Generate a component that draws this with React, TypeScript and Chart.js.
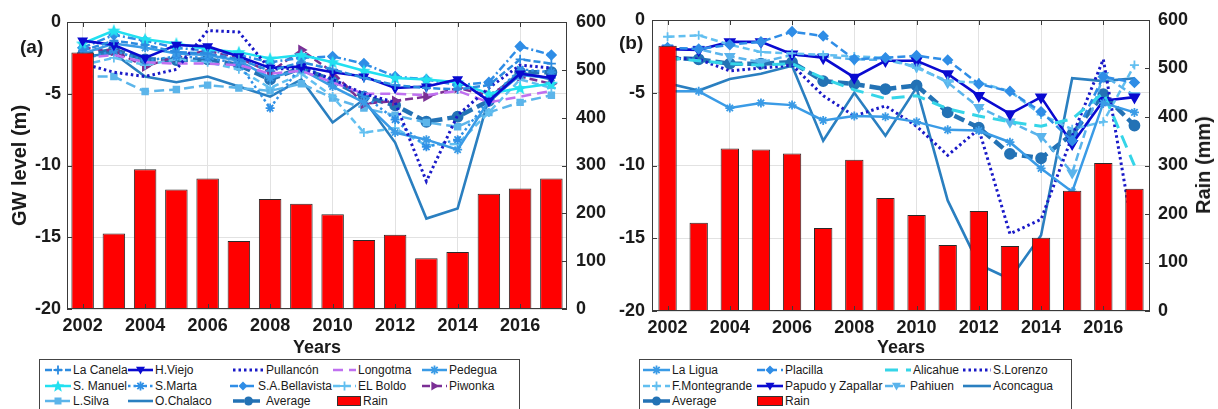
import React, { useEffect, useRef } from 'react';
import { Chart, registerables } from 'chart.js';
Chart.register(...registerables);

// ---------- data ----------
const years = ['2002','2003','2004','2005','2006','2007','2008','2009','2010','2011','2012','2013','2014','2015','2016','2017'];

const rainA = [536,158,292,250,273,142,230,220,198,144,155,106,119,241,252,273];
const rainB = [547,182,335,333,325,171,312,233,198,136,206,134,151,248,305,252];

// panel (a) groundwater levels (m)
const laCanela = [-2.0,-1.3,-1.6,-2.1,-2.2,-2.6,-3.4,-2.8,-3.3,-3.9,-4.4,-4.6,-4.7,-4.4,-2.6,-2.9];
const hViejo = [-1.3,-1.6,-2.5,-1.6,-1.7,-2.4,-3.2,-3.1,-3.5,-3.8,-4.6,-4.5,-4.0,-5.5,-3.6,-3.9];
const pullancon = [-2.9,-3.5,-3.8,-3.3,-0.6,-0.7,-3.3,-3.2,-4.0,-5.0,-5.6,-11.1,-6.5,-4.6,-3.0,-3.2];
const longotma = [-2.5,-2.3,-2.8,-2.9,-2.9,-3.0,-3.6,-3.4,-4.2,-5.0,-5.0,-5.1,-4.8,-5.6,-5.2,-4.8];
const pedegua = [-2.2,-1.5,-1.8,-2.2,-2.3,-2.7,-3.9,-3.3,-4.5,-5.6,-7.7,-8.2,-8.9,-5.5,-3.7,-3.9];
const sManuel = [-1.5,-0.6,-1.2,-1.5,-1.9,-2.1,-2.55,-2.3,-2.8,-3.4,-3.9,-4.0,-4.2,-5.0,-4.6,-4.3];
const sMarta = [-2.6,-2.0,-2.7,-2.4,-2.5,-2.9,-6.0,-3.0,-4.1,-5.1,-6.8,-8.7,-8.2,-5.4,-3.3,-3.5];
const saBellavista = [-1.8,-0.9,-1.3,-1.8,-2.0,-2.3,-2.8,-2.5,-2.4,-2.9,-3.8,-4.0,-4.4,-4.2,-1.7,-2.3];
const elBoldo = [-3.0,-2.5,-3.0,-2.6,-2.8,-3.3,-4.6,-3.6,-5.2,-7.7,-7.4,-8.6,-8.5,-6.3,-4.0,-4.6];
const piwonka = [-1.8,-2.0,-3.1,-2.4,-2.0,-2.5,-3.5,-1.95,-3.5,-5.7,-5.5,-5.2,-4.6,-5.1,-3.8,-4.3];
const lSilva = [-3.8,-3.8,-4.85,-4.7,-4.4,-4.6,-4.8,-4.3,-5.3,-6.0,-6.5,-7.0,-7.3,-6.3,-5.6,-5.1];
const oChalaco = [-2.4,-2.2,-3.8,-4.2,-3.8,-4.5,-5.2,-4.0,-7.0,-5.4,-8.4,-13.7,-13.0,-5.3,-3.5,-4.0];
const averageA = [-2.3,-1.95,-2.6,-2.65,-2.6,-3.0,-4.0,-3.2,-4.1,-5.2,-5.8,-6.95,-6.6,-5.5,-3.5,-3.5];

// panel (b) groundwater levels (m)
const laLigua = [-4.9,-4.9,-6.05,-5.7,-5.85,-6.9,-6.6,-6.65,-7.0,-7.55,-7.6,-8.4,-10.2,-11.8,-5.7,-6.35];
const placilla = [-1.9,-2.0,-1.7,-1.5,-0.8,-1.1,-2.7,-2.6,-2.45,-2.75,-4.4,-4.9,-6.3,-8.3,-3.9,-4.3];
const alicahue = [-2.6,-2.8,-3.0,-3.1,-3.0,-4.0,-4.8,-5.4,-5.2,-6.1,-6.6,-7.0,-7.3,-6.8,-5.0,-10.0];
const sLorenzo = [-2.6,-2.7,-3.5,-3.3,-3.1,-5.2,-6.6,-5.9,-7.3,-9.3,-7.5,-14.7,-13.7,-8.0,-2.7,-15.2];
const fMontegrande = [-1.15,-1.05,-1.7,-2.2,-2.3,-2.4,-2.5,-2.6,-3.3,-4.2,-4.3,-4.9,-6.5,-7.5,-7.0,-3.1];
const papudo = [-2.0,-2.05,-1.5,-1.5,-2.35,-2.6,-3.95,-2.8,-2.8,-3.7,-5.2,-6.45,-5.3,-8.5,-5.55,-5.3];
const pahiuen = [-1.9,-2.0,-2.5,-2.9,-2.4,-2.5,-2.7,-2.75,-3.2,-4.3,-6.0,-7.0,-8.0,-10.5,-3.8,-5.2];
const aconcagua = [-4.35,-4.85,-4.05,-3.7,-3.15,-8.3,-5.0,-7.95,-4.65,-12.4,-16.8,-17.8,-14.8,-4.0,-4.2,-4.0];
const averageB = [-2.6,-2.7,-3.0,-3.0,-2.9,-4.2,-4.4,-4.75,-4.5,-6.35,-7.4,-9.2,-9.5,-7.85,-5.1,-7.25];

// ---------- styles ----------
const FONT = '"Liberation Sans", Arial, Helvetica, sans-serif';
const TXT = '#1a1a1a';
const GRID = '#e2e2e2';

type Sty = { color: string; dash: number[]; width: number; marker: string; size: number };
const st = (color: string, dash: number[], width: number, marker: string, size = 4.5): Sty => ({ color, dash, width, marker, size });

const S = {
  laCanela: st('#2c8be0', [7, 3], 2.5, 'cross'),
  hViejo: st('#0a0ad0', [], 2.6, 'triDown'),
  pullancon: st('#1a1ac8', [2.5, 3], 3, 'none'),
  longotma: st('#c070f0', [10, 6], 2.5, 'none'),
  pedegua: st('#3a9be6', [], 2.5, 'asterisk'),
  sManuel: st('#22e0f0', [], 2.5, 'star5', 6),
  sMarta: st('#2f90e6', [2.5, 3], 2.5, 'asterisk'),
  saBellavista: st('#2f8de6', [8, 3, 2, 3], 2.5, 'diamond'),
  elBoldo: st('#62bff0', [7, 4], 2.5, 'cross'),
  piwonka: st('#7b2f95', [8, 4], 2.5, 'triRight'),
  lSilva: st('#5cb5ea', [10, 5], 2.5, 'square', 4),
  oChalaco: st('#2a7fc0', [], 2.6, 'none'),
  average: st('#2372b5', [11, 5], 4.5, 'circle', 5),
  laLigua: st('#3a9be6', [], 2.5, 'asterisk'),
  placilla: st('#2f8de6', [8, 4], 2.5, 'diamond'),
  alicahue: st('#35d5e8', [13, 8], 3, 'none'),
  sLorenzo: st('#1a1ac8', [2.5, 3], 3, 'none'),
  fMontegrande: st('#62bff0', [7, 4], 2.5, 'cross'),
  papudo: st('#0a0ad0', [], 2.6, 'triDown', 5.5),
  pahiuen: st('#5ab4ec', [8, 4], 2.5, 'triDown', 5),
  aconcagua: st('#2a7fc0', [], 2.6, 'none'),
};

function starPoints(cx: number, cy: number, R: number, r: number) {
  const pts: string[] = [];
  for (let i = 0; i < 10; i++) {
    const a = -Math.PI / 2 + (i * Math.PI) / 5;
    const rad = i % 2 === 0 ? R : r;
    pts.push(`${(cx + rad * Math.cos(a)).toFixed(2)},${(cy + rad * Math.sin(a)).toFixed(2)}`);
  }
  return pts;
}

function makeStarCanvas(color: string, size: number) {
  const c = document.createElement('canvas');
  c.width = size; c.height = size;
  const g = c.getContext('2d')!;
  const pts = starPoints(size / 2, size / 2 + 0.5, size / 2, size / 4.6).map(p => p.split(',').map(Number));
  g.beginPath();
  pts.forEach((p, i) => (i === 0 ? g.moveTo(p[0], p[1]) : g.lineTo(p[0], p[1])));
  g.closePath();
  g.fillStyle = color; g.fill();
  return c;
}

const markerMap: Record<string, [string, number]> = {
  cross: ['cross', 0],
  asterisk: ['star', 0],
  triDown: ['triangle', 180],
  triRight: ['triangle', 90],
  diamond: ['rectRot', 0],
  square: ['rect', 0],
  circle: ['circle', 0],
};

function lineDs(label: string, data: number[], s: Sty, star: any) {
  const m = s.marker === 'star5' ? [star, 0] : markerMap[s.marker];
  return {
    type: 'line', label, data, yAxisID: 'y',
    borderColor: s.color, backgroundColor: s.color, borderWidth: s.width, borderDash: s.dash,
    pointStyle: m ? m[0] : 'circle', pointRotation: m ? m[1] : 0, pointRadius: m ? s.size : 0,
    pointBorderWidth: 1.8, pointBackgroundColor: s.color, pointBorderColor: s.color,
    tension: 0, fill: false, order: 1,
  };
}

const framePlugin = {
  id: 'frame',
  afterDraw(chart: any) {
    const { ctx, chartArea: a, scales } = chart;
    ctx.save();
    ctx.strokeStyle = '#3a3a3a';
    ctx.lineWidth = 1;
    ctx.strokeRect(a.left + 0.5, a.top + 0.5, a.right - a.left - 1, a.bottom - a.top - 1);
    ctx.beginPath();
    scales.x.ticks.forEach((t: any, i: number) => {
      if (i % 2 !== 0) return;
      const px = Math.round(scales.x.getPixelForTick(i)) + 0.5;
      ctx.moveTo(px, a.bottom); ctx.lineTo(px, a.bottom - 5);
      ctx.moveTo(px, a.top); ctx.lineTo(px, a.top + 5);
    });
    scales.y.ticks.forEach((t: any) => {
      const py = Math.round(scales.y.getPixelForValue(t.value)) + 0.5;
      ctx.moveTo(a.left, py); ctx.lineTo(a.left + 5, py);
    });
    scales.y1.ticks.forEach((t: any) => {
      const py = Math.round(scales.y1.getPixelForValue(t.value)) + 0.5;
      ctx.moveTo(a.right, py); ctx.lineTo(a.right - 5, py);
    });
    ctx.stroke();
    ctx.restore();
  },
};

function buildConfig(p: {
  lines: any[]; rain: number[]; barPct: number; padTop: number; yLeftW: number; yRightW: number; xH: number;
  yTitle: string | null; leftPad: number; rightPad: number;
}) {
  const tickFont = { size: 18, weight: 'bold' as const, family: FONT };
  return {
    type: 'bar',
    data: {
      labels: years,
      datasets: [
        {
          type: 'bar', label: 'Rain', data: p.rain, yAxisID: 'y1',
          backgroundColor: '#ff0000', borderColor: '#2a2a2a', borderWidth: 1,
          barPercentage: p.barPct, categoryPercentage: 1, order: 0,
        },
        ...p.lines,
      ],
    },
    options: {
      responsive: false, animation: false, maintainAspectRatio: false,
      layout: { padding: { top: p.padTop, left: 0, right: 0, bottom: 0 } },
      plugins: { legend: { display: false }, tooltip: { enabled: false } },
      scales: {
        x: {
          type: 'category', offset: true,
          grid: { offset: false, drawTicks: false, color: (c: any) => (c.index % 2 === 0 ? GRID : 'rgba(0,0,0,0)') },
          border: { display: false },
          ticks: {
            autoSkip: false, maxRotation: 0, minRotation: 0, padding: 6, color: TXT, font: tickFont,
            callback: (_v: any, i: number) => (i % 2 === 0 ? years[i] : ''),
          },
          title: { display: true, text: 'Years', color: TXT, font: tickFont, padding: { top: 0, bottom: 6 } },
          afterFit: (s: any) => { s.height = p.xH; },
        },
        y: {
          position: 'left', min: -20, max: 0,
          ticks: { stepSize: 5, padding: p.leftPad, color: TXT, font: tickFont },
          grid: { color: GRID, drawTicks: false },
          border: { display: false },
          title: p.yTitle
            ? { display: true, text: p.yTitle, color: TXT, font: { size: 20, weight: 'bold', family: FONT }, padding: { top: 8, bottom: 0 } }
            : { display: false },
          afterFit: (s: any) => { s.width = p.yLeftW; },
        },
        y1: {
          position: 'right', min: 0, max: 600,
          ticks: { stepSize: 100, padding: p.rightPad, color: TXT, font: tickFont },
          grid: { drawOnChartArea: false, drawTicks: false },
          border: { display: false },
          afterFit: (s: any) => { s.width = p.yRightW; },
        },
      },
    },
    plugins: [framePlugin],
  };
}

// ---------- legend ----------
function Sample({ x, y, w, s }: { x: number; y: number; w: number; s: Sty | 'rain' }) {
  if (s === 'rain') {
    return <div style={{ position: 'absolute', left: x, top: y - 5, width: w, height: 10, background: '#ff0000', border: '1px solid #333', boxSizing: 'border-box' }} />;
  }
  const cx = w / 2, cy = 7, r = Math.min(s.size, 4.5);
  let m: any = null;
  const c = s.color;
  if (s.marker === 'cross') m = <path d={`M${cx - r} ${cy}H${cx + r}M${cx} ${cy - r}V${cy + r}`} stroke={c} strokeWidth={1.8} />;
  else if (s.marker === 'asterisk') m = <path d={`M${cx - r} ${cy}H${cx + r}M${cx} ${cy - r}V${cy + r}M${cx - r * 0.7} ${cy - r * 0.7}L${cx + r * 0.7} ${cy + r * 0.7}M${cx - r * 0.7} ${cy + r * 0.7}L${cx + r * 0.7} ${cy - r * 0.7}`} stroke={c} strokeWidth={1.8} />;
  else if (s.marker === 'triDown') m = <polygon points={`${cx - r},${cy - r * 0.7} ${cx + r},${cy - r * 0.7} ${cx},${cy + r}`} fill={c} />;
  else if (s.marker === 'triRight') m = <polygon points={`${cx - r * 0.7},${cy - r} ${cx - r * 0.7},${cy + r} ${cx + r},${cy}`} fill={c} />;
  else if (s.marker === 'diamond') m = <polygon points={`${cx},${cy - r} ${cx + r},${cy} ${cx},${cy + r} ${cx - r},${cy}`} fill={c} />;
  else if (s.marker === 'square') m = <rect x={cx - 3.5} y={cy - 3.5} width={7} height={7} fill={c} />;
  else if (s.marker === 'circle') m = <circle cx={cx} cy={cy} r={4.5} fill={c} />;
  else if (s.marker === 'star5') m = <polygon points={starPoints(cx, cy + 0.5, 6.5, 2.8).join(' ')} fill={c} />;
  return (
    <svg width={w} height={14} style={{ position: 'absolute', left: x, top: y - 7 }}>
      <line x1={0} y1={cy} x2={w} y2={cy} stroke={c} strokeWidth={Math.min(s.width, 3.5)} strokeDasharray={s.dash.length ? s.dash.join(' ') : undefined} />
      {m}
    </svg>
  );
}

type LegItem = [number, number, number, string, Sty | 'rain'];
const rowsY = [370, 386, 401];

const legendA: LegItem[] = [
  [45, 73, 0, 'La Canela', S.laCanela], [128, 155, 0, 'H.Viejo', S.hViejo], [233, 266, 0, 'Pullancón', S.pullancon],
  [333, 358, 0, 'Longotma', S.longotma], [422, 449, 0, 'Pedegua', S.pedegua],
  [45, 73, 1, 'S. Manuel', S.sManuel], [128, 155, 1, 'S.Marta', S.sMarta], [230, 258, 1, 'S.A.Bellavista', S.saBellavista],
  [333, 358, 1, 'EL Boldo', S.elBoldo], [422, 449, 1, 'Piwonka', S.piwonka],
  [45, 73, 2, 'L.Silva', S.lSilva], [128, 155, 2, 'O.Chalaco', S.oChalaco], [233, 266, 2, 'Average', S.average],
  [337, 363, 2, 'Rain', 'rain'],
];
const legendB: LegItem[] = [
  [643, 672, 0, 'La Ligua', S.laLigua], [757, 785, 0, 'Placilla', S.placilla], [885, 913, 0, 'Alicahue', S.alicahue], [963, 993, 0, 'S.Lorenzo', S.sLorenzo],
  [643, 672, 1, 'F.Montegrande', S.fMontegrande], [757, 785, 1, 'Papudo y Zapallar', S.papudo], [885, 910, 1, 'Pahiuen', S.pahiuen], [963, 993, 1, 'Aconcagua', S.aconcagua],
  [643, 672, 2, 'Average', S.average], [757, 785, 2, 'Rain', 'rain'],
];

function Legend({ items, left, width }: { items: LegItem[]; left: number; width: number }) {
  return (
    <>
      <div style={{ position: 'absolute', left, top: 359, width, height: 50, borderTop: '1px solid #444', borderLeft: '1px solid #444', borderRight: '1px solid #444', boxSizing: 'border-box', background: '#fff' }} />
      {items.map(([sx, tx, row, text, s], i) => (
        <React.Fragment key={i}>
          <Sample x={sx} y={rowsY[row]} w={tx - sx - 2} s={s} />
          <div style={{ position: 'absolute', left: tx, top: rowsY[row] - 8, fontSize: 12, lineHeight: '16px', whiteSpace: 'nowrap', color: TXT }}>{text}</div>
        </React.Fragment>
      ))}
    </>
  );
}

export default function App() {
  const refA = useRef<HTMLCanvasElement>(null);
  const refB = useRef<HTMLCanvasElement>(null);

  useEffect(() => {
    Chart.defaults.font.family = FONT;
    const star = makeStarCanvas(S.sManuel.color, 14);
    const linesA = [
      lineDs('La Canela', laCanela, S.laCanela, star),
      lineDs('H.Viejo', hViejo, S.hViejo, star),
      lineDs('Pullancón', pullancon, S.pullancon, star),
      lineDs('Longotma', longotma, S.longotma, star),
      lineDs('Pedegua', pedegua, S.pedegua, star),
      lineDs('S. Manuel', sManuel, S.sManuel, star),
      lineDs('S.Marta', sMarta, S.sMarta, star),
      lineDs('S.A.Bellavista', saBellavista, S.saBellavista, star),
      lineDs('EL Boldo', elBoldo, S.elBoldo, star),
      lineDs('Piwonka', piwonka, S.piwonka, star),
      lineDs('L.Silva', lSilva, S.lSilva, star),
      lineDs('O.Chalaco', oChalaco, S.oChalaco, star),
      lineDs('Average', averageA, S.average, star),
    ];
    const linesB = [
      lineDs('La Ligua', laLigua, S.laLigua, star),
      lineDs('Placilla', placilla, S.placilla, star),
      lineDs('Alicahue', alicahue, S.alicahue, star),
      lineDs('S.Lorenzo', sLorenzo, S.sLorenzo, star),
      lineDs('F.Montegrande', fMontegrande, S.fMontegrande, star),
      lineDs('Papudo y Zapallar', papudo, S.papudo, star),
      lineDs('Pahiuen', pahiuen, S.pahiuen, star),
      lineDs('Aconcagua', aconcagua, S.aconcagua, star),
      lineDs('Average', averageB, S.average, star),
    ];
    const a = new Chart(refA.current as any, buildConfig({
      lines: linesA, rain: rainA, barPct: 0.72, padTop: 22, yLeftW: 67, yRightW: 48, xH: 56,
      yTitle: 'GW level (m)', leftPad: 6, rightPad: 9,
    }) as any);
    const b = new Chart(refB.current as any, buildConfig({
      lines: linesB, rain: rainB, barPct: 0.59, padTop: 20, yLeftW: 47, yRightW: 68, xH: 54,
      yTitle: null, leftPad: 7, rightPad: 8,
    }) as any);
    return () => { a.destroy(); b.destroy(); };
  }, []);

  return (
    <div style={{ position: 'absolute', left: 0, top: 0, width: 1218, height: 409, overflow: 'hidden', fontFamily: FONT, color: TXT, background: '#fff' }}>
      <Legend items={legendA} left={39} width={481} />
      <Legend items={legendB} left={639} width={433} />
      <canvas ref={refA} width={615} height={365} style={{ position: 'absolute', left: 0, top: 0, width: 615, height: 365 }} />
      <canvas ref={refB} width={613} height={365} style={{ position: 'absolute', left: 605, top: 0, width: 613, height: 365 }} />
      <div style={{ position: 'absolute', left: 20, top: 35, fontSize: 19, fontWeight: 'bold', lineHeight: '24px' }}>(a)</div>
      <div style={{ position: 'absolute', left: 619, top: 31, fontSize: 19, fontWeight: 'bold', lineHeight: '24px' }}>(b)</div>
      <div style={{ position: 'absolute', left: 1203, top: 165, transform: 'translate(-50%, -50%) rotate(-90deg)', fontSize: 20, fontWeight: 'bold', whiteSpace: 'nowrap', lineHeight: '24px' }}>Rain (mm)</div>
    </div>
  );
}
